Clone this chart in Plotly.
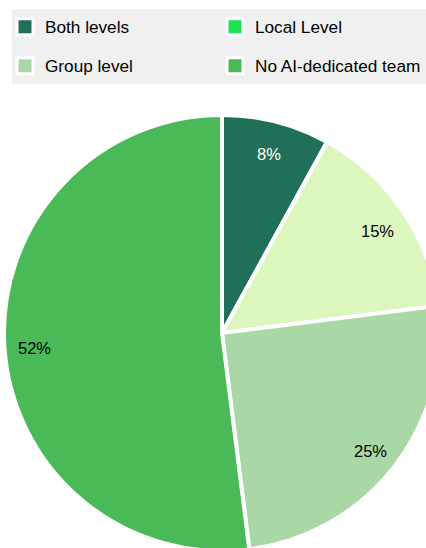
import math
import plotly.graph_objects as go

# Share of companies by where the AI-dedicated team sits
categories = ["Both levels", "Local Level", "Group level", "No AI-dedicated team"]
shares = [8, 15, 25, 52]

slice_colors = ["#1f6f59", "#dcf7bd", "#a9d7a6", "#4ab958"]
legend_colors = ["#1f6f59", "#22df58", "#a9d7a6", "#4ab958"]
label_colors = ["white", "black", "black", "black"]
legend_rows = ["legend", "legend", "legend2", "legend2"]

FONT = "Liberation Sans, Arial, sans-serif"
W, H = 444, 552

# pie geometry in pixels (centre and radius of the domain square)
PIE_TOP, PIE_BOTTOM = 115, 551
CX = W / 2
CY = (PIE_TOP + PIE_BOTTOM) / 2
R = (PIE_BOTTOM - PIE_TOP) / 2
LABEL_R = 0.86 * R

fig = go.Figure()

fig.add_trace(go.Pie(
    labels=categories,
    values=shares,
    sort=False,
    direction="clockwise",
    rotation=0,
    marker=dict(colors=slice_colors, line=dict(color="white", width=4)),
    textinfo="none",
    domain=dict(x=[0, 1], y=[1 - PIE_BOTTOM / H, 1 - PIE_TOP / H]),
    showlegend=False,
    hoverinfo="label+percent",
))

# percentage labels at each slice's mid-angle, near the rim
total = sum(shares)
annotations = []
cum = 0
for v, col in zip(shares, label_colors):
    mid = 2 * math.pi * (cum + v / 2) / total
    cum += v
    px = CX + LABEL_R * math.sin(mid)
    py = CY - LABEL_R * math.cos(mid) + 3
    annotations.append(dict(
        x=px / W, y=1 - py / H, xref="paper", yref="paper",
        text=f"{v}%", showarrow=False,
        xanchor="center", yanchor="middle",
        font=dict(family=FONT, size=16.5, color=col),
    ))

# legend entries (two rows of two)
for name, col, lg in zip(categories, legend_colors, legend_rows):
    fig.add_trace(go.Scatter(
        x=[None], y=[None], mode="markers", name=name, legend=lg,
        marker=dict(symbol="square", size=16, color=col,
                    line=dict(color="white", width=3)),
        hoverinfo="skip",
    ))

legend_common = dict(
    orientation="h",
    x=5 / W, xanchor="left",
    yanchor="middle",
    entrywidth=165, entrywidthmode="pixels",
    bgcolor="rgba(0,0,0,0)",
    font=dict(family=FONT, size=17.2, color="black"),
    itemclick=False, itemdoubleclick=False,
)

fig.update_layout(
    width=W, height=H,
    margin=dict(l=0, r=0, t=0, b=0),
    paper_bgcolor="white",
    plot_bgcolor="white",
    xaxis=dict(visible=False),
    yaxis=dict(visible=False),
    legend=dict(legend_common, y=1 - 27 / H),
    legend2=dict(legend_common, y=1 - 66 / H),
    annotations=annotations,
    shapes=[dict(
        type="rect", xref="paper", yref="paper",
        x0=12 / W, x1=1, y0=1 - 84 / H, y1=1 - 9 / H,
        fillcolor="#f0f0f0", line=dict(width=0), layer="below",
    )],
)

clip = (
    "var d=document.getElementById('{plot_id}');"
    "var p=d.parentElement;p.style.width='426px';p.style.height='548px';"
    "p.style.overflow='hidden';document.body.style.overflow='hidden';"
    "document.documentElement.style.overflow='hidden';"
)
fig.write_html("out.html", post_script=clip)
